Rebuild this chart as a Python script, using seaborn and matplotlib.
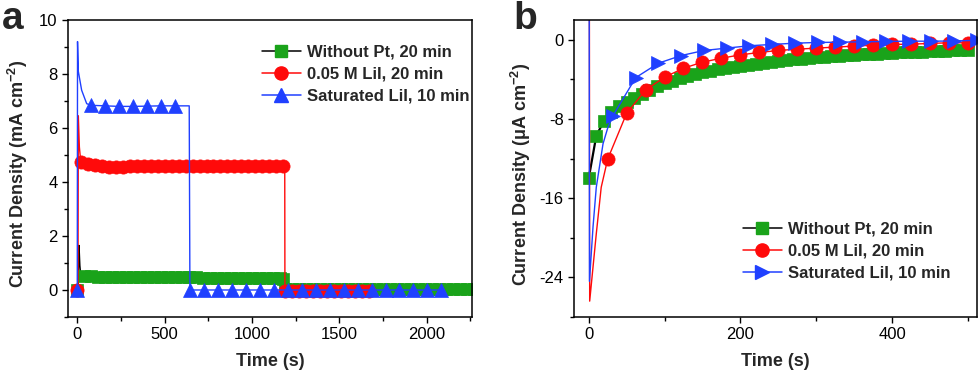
import numpy as np
import matplotlib
matplotlib.use("Agg")
from matplotlib import pyplot as plt
from matplotlib.lines import Line2D
from matplotlib.ticker import MultipleLocator
import seaborn as sns

# ---- panel a: current density (mA cm-2) vs time (s) ----
green_a_t = [0, 5, 10, 15, 20] + list(range(40, 1161, 40)) + [1180, 1190] + list(range(1230, 2271, 40))
green_a_y = ([0.0, 0.0, 1.65, 0.9, 0.55]
             + [0.52, 0.50, 0.49, 0.48, 0.48, 0.48, 0.48, 0.48, 0.48, 0.48,
                0.48, 0.48, 0.48, 0.47, 0.47, 0.47, 0.47, 0.46, 0.46, 0.46,
                0.45, 0.45, 0.45, 0.44, 0.44, 0.44, 0.43, 0.43, 0.43]
             + [0.42, 0.03]
             + [0.03, 0.03, 0.03, 0.03, 0.03, 0.03, 0.03, 0.03, 0.03, 0.02,
                0.02, 0.02, 0.02, 0.02, 0.02, 0.02, 0.02, 0.02, 0.02, 0.02,
                0.02, 0.02, 0.02, 0.02, 0.02, 0.02, 0.02])

red_a_t = [0, 4, 6, 12] + list(range(20, 1181, 40)) + [1188, 1189] + list(range(1229, 1670, 40))
red_a_y = ([0.0, 0.0, 6.45, 5.3]
           + [4.75, 4.68, 4.62, 4.58, 4.57, 4.57, 4.57, 4.58, 4.58, 4.58,
              4.59, 4.59, 4.59, 4.60, 4.60, 4.60, 4.60, 4.61, 4.61, 4.61,
              4.61, 4.61, 4.61, 4.61, 4.61, 4.60, 4.60, 4.60, 4.60, 4.59]
           + [4.59, -0.03]
           + [-0.03, -0.03, -0.03, -0.03, -0.03, -0.03, -0.03, -0.03, -0.03, -0.03,
              -0.03, -0.03])

blue_a_t = [0, 1.5, 6, 25, 54] + list(range(80, 561, 80)) + [641, 645] + list(range(725, 2086, 80))
blue_a_y = ([0.0, 9.2, 8.1, 7.4, 6.9]
            + [6.84, 6.82, 6.80, 6.80, 6.81, 6.82, 6.82]
            + [6.82, 0.0]
            + [0.0, 0.0, 0.0, 0.0, 0.0, 0.0, 0.0, 0.0, 0.0, 0.0,
               0.0, 0.0, 0.0, 0.0, 0.0, 0.0, 0.0, 0.0])

# ---- panel b: current density (uA cm-2) vs time (s) ----
green_b_t = list(range(0, 501, 10))
green_b_y = [-14.0, -9.7, -8.2, -7.3, -6.7, -6.3, -5.9, -5.5, -5.1, -4.7,
             -4.4, -4.15, -3.9, -3.7, -3.5, -3.3, -3.15, -3.0, -2.85, -2.7,
             -2.6, -2.5, -2.4, -2.3, -2.2, -2.12, -2.05, -1.98, -1.91, -1.85,
             -1.78, -1.72, -1.67, -1.62, -1.57, -1.52, -1.48, -1.44, -1.40, -1.36,
             -1.32, -1.28, -1.25, -1.22, -1.19, -1.16, -1.13, -1.10, -1.07, -1.04,
             -1.01]

red_b_t = [0.8, 1.3, 5, 10, 16.5] + list(range(25, 501, 25))
red_b_y = ([12.0, -26.4, -23.5, -19.6, -14.9]
           + [-12.06, -7.43, -5.07, -3.78, -2.87, -2.26, -1.86, -1.52, -1.28, -1.08,
              -0.95, -0.84, -0.74, -0.64, -0.54, -0.47, -0.44, -0.37, -0.30, -0.30])

blue_b_t = [0.6, 1.0, 5.7, 10, 18.9, 25.5] + list(range(32, 513, 30))
blue_b_y = ([12.0, -24.4, -18.9, -14.9, -10.5, -8.8]
            + [-7.67, -3.82, -2.36, -1.59, -1.08, -0.84, -0.60, -0.47, -0.34, -0.27,
               -0.24, -0.20, -0.17, -0.14, -0.14, -0.12, -0.05])

labels = ["Without Pt, 20 min", "0.05 M LiI, 20 min", "Saturated LiI, 10 min"]

GREEN = "#1aa31a"
RED = "#ff0a0a"
BLUE = "#2040ff"

sns.set_style("ticks")
plt.rcParams["font.family"] = ["Liberation Sans", "DejaVu Sans"]
plt.rcParams["mathtext.default"] = "regular"
plt.rcParams["axes.unicode_minus"] = False

fig = plt.figure(figsize=(9.8, 3.71), dpi=100)
ax_a = fig.add_axes([0.0694, 0.1456, 0.4122, 0.8005])
ax_b = fig.add_axes([0.5857, 0.1456, 0.4112, 0.8005])


def draw(ax, t, y, face, line, marker, ms, skip, lw=1.0):
    mark = [i for i in range(len(t)) if i not in skip]
    sns.lineplot(x=t, y=y, ax=ax, color=line, lw=lw, marker=marker,
                 markersize=ms, markerfacecolor=face, markeredgecolor=face,
                 markeredgewidth=0.5, markevery=mark, sort=False,
                 estimator=None, legend=False)


draw(ax_a, green_a_t, green_a_y, GREEN, "black", "s", 8, [1, 2, 3, 4])
draw(ax_a, red_a_t, red_a_y, RED, RED, "o", 9.5, [1, 2, 3, 34])
draw(ax_a, blue_a_t, blue_a_y, BLUE, BLUE, "^", 10, [1, 2, 3, 4, 12])

draw(ax_b, green_b_t, green_b_y, GREEN, "black", "s", 8, [], lw=1.6)
draw(ax_b, red_b_t, red_b_y, RED, RED, "o", 9.5, [0, 1, 2, 3, 4])
draw(ax_b, blue_b_t, blue_b_y, BLUE, BLUE, ">", 10, [0, 1, 2, 3, 4, 5])


def style_axes(ax, ylabel):
    for s in ax.spines.values():
        s.set_visible(True)
        s.set_color("black")
        s.set_linewidth(1.1)
    ax.tick_params(which="both", direction="out", top=False, right=False,
                   labelsize=12, pad=3, colors="black")
    ax.tick_params(which="major", length=4.5, width=1)
    ax.tick_params(which="minor", length=3, width=1)
    ax.set_xlabel("Time (s)", fontsize=13, fontweight="bold")
    ax.set_ylabel(ylabel, fontsize=13, fontweight="bold")
    ax.xaxis.set_label_coords(0.5, -0.12)


style_axes(ax_a, "Current Density (mA cm$^{-2}$)")
ax_a.set_xlim(-53, 2260)
ax_a.set_ylim(-1, 10)
ax_a.xaxis.set_major_locator(MultipleLocator(500))
ax_a.xaxis.set_minor_locator(MultipleLocator(250))
ax_a.yaxis.set_major_locator(MultipleLocator(2))
ax_a.yaxis.set_minor_locator(MultipleLocator(1))
ax_a.yaxis.set_label_coords(-0.094, 0.48)

style_axes(ax_b, "Current Density (\u03bcA cm$^{-2}$)")
ax_b.set_xlim(-19.4, 512)
ax_b.set_ylim(-28, 2)
ax_b.xaxis.set_major_locator(MultipleLocator(200))
ax_b.xaxis.set_minor_locator(MultipleLocator(100))
ax_b.yaxis.set_major_locator(MultipleLocator(8))
ax_b.yaxis.set_minor_locator(MultipleLocator(4))
ax_b.yaxis.set_label_coords(-0.102, 0.48)


def handles(marks, sizes, lines):
    return [Line2D([0], [0], color=lc, lw=1.1, marker=m, markersize=ms,
                   markerfacecolor=fc, markeredgecolor=fc)
            for (m, ms, (lc, fc)) in zip(marks, sizes, lines)]


pairs = [("black", GREEN), (RED, RED), (BLUE, BLUE)]
leg_kw = dict(frameon=False, loc="upper left", handlelength=2.35,
              handletextpad=0.35, labelspacing=0.42, borderpad=0, borderaxespad=0,
              prop={"weight": "bold", "size": 12})
ax_a.legend(handles(["s", "o", "^"], [8, 9.5, 10], pairs), labels,
            bbox_to_anchor=(0.48, 0.917), **leg_kw)
ax_b.legend(handles(["s", "o", ">"], [8, 9.5, 10], pairs), labels,
            bbox_to_anchor=(0.419, 0.322), **leg_kw)

fig.text(0.002, 0.922, "a", fontsize=28, fontweight="bold", va="baseline")
fig.text(0.5235, 0.922, "b", fontsize=28, fontweight="bold", va="baseline")

fig.savefig("out.png", dpi=100)
